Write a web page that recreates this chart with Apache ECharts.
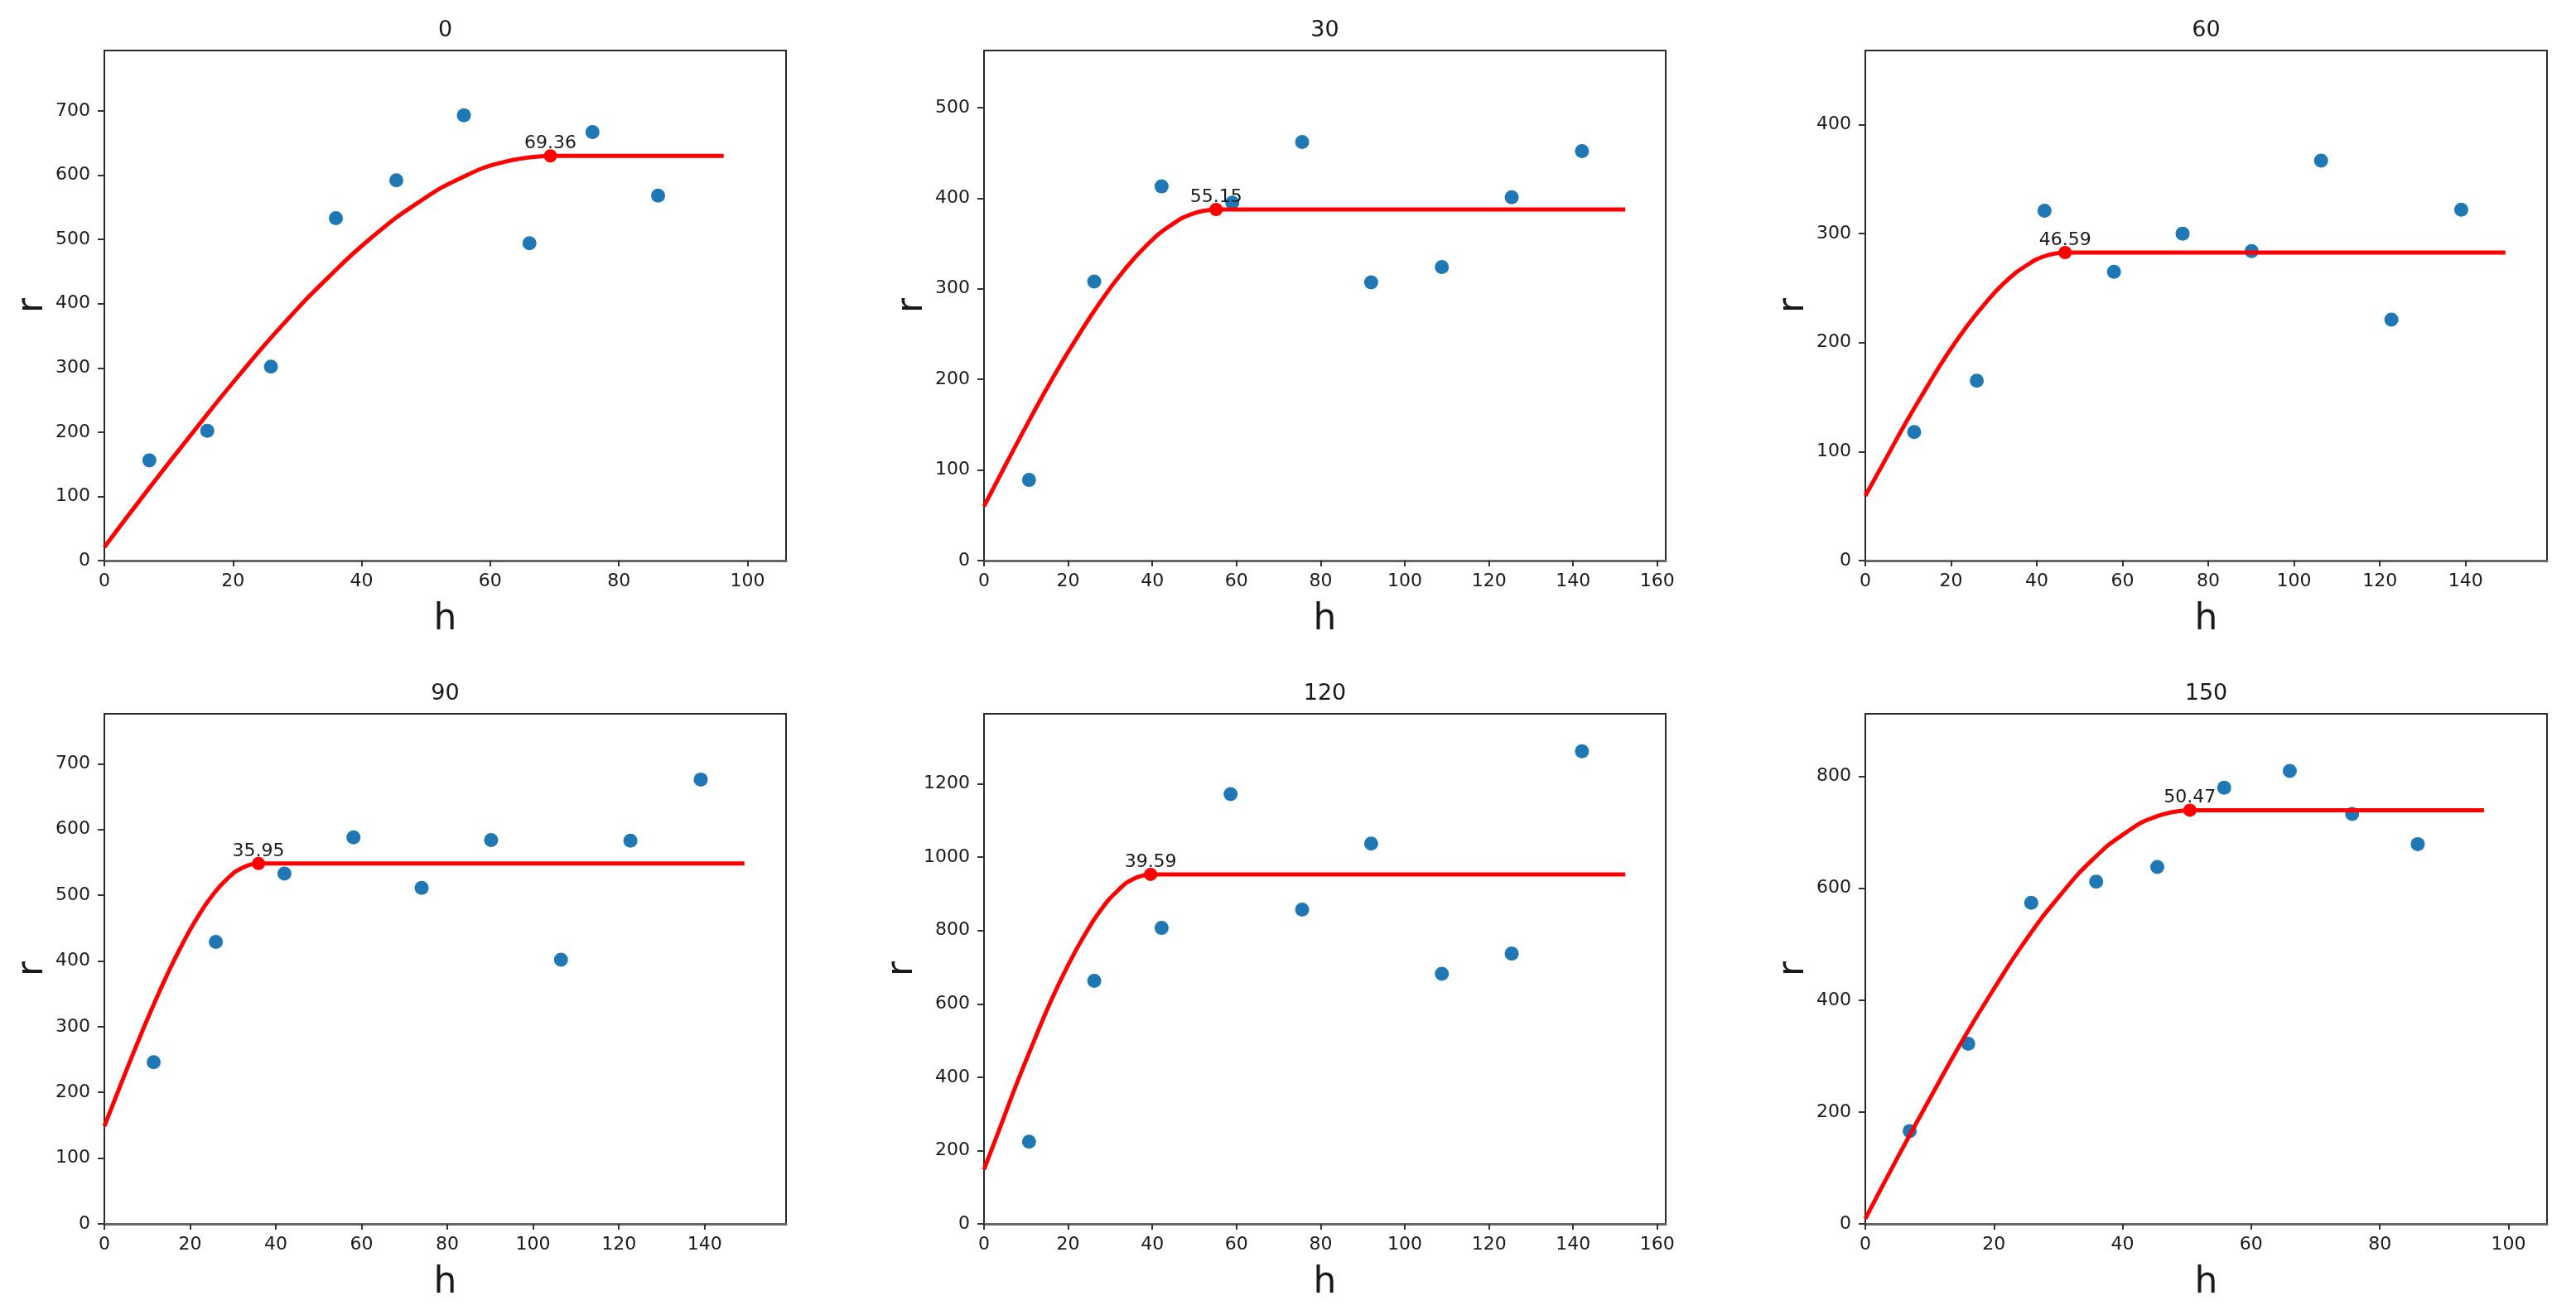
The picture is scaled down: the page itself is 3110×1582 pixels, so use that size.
<!DOCTYPE html>
<html>
<head>
<meta charset="utf-8">
<script src="https://cdn.jsdelivr.net/npm/echarts@6/dist/echarts.min.js"></script>
<style>
html, body { margin: 0; padding: 0; background: #fff; }
#chart { width: 3110px; height: 1582px; }
</style>
</head>
<body>
<div id="chart"></div>
<script>
// ---------- DATA ----------
const panelTitles = ['0', '30', '60', '90', '120', '150'];

// experimental points (lag h, semivariance r)
const h0 = [7.0, 16.0, 25.9, 36.0, 45.4, 55.9, 66.1, 75.9, 86.1];
const r0 = [156, 202, 302, 533, 592, 693, 494, 667, 568];
const h1 = [10.7, 26.2, 42.2, 59.0, 75.6, 92.0, 108.8, 125.4, 142.1];
const r1 = [89, 308, 413, 395, 462, 307, 324, 401, 452];
const h2 = [11.4, 26.0, 41.8, 58.0, 74.0, 90.1, 106.3, 122.7, 139.0];
const r2 = [118, 165, 321, 265, 300, 284, 367, 221, 322];
const h3 = [11.5, 26.0, 42.0, 58.1, 74.0, 90.2, 106.5, 122.7, 139.1];
const r3 = [246, 429, 533, 588, 511, 584, 402, 583, 676];
const h4 = [10.7, 26.2, 42.2, 58.6, 75.6, 92.0, 108.8, 125.4, 142.1];
const r4 = [224, 663, 807, 1172, 857, 1037, 682, 737, 1289];
const h5 = [6.9, 16.0, 25.8, 35.9, 45.4, 55.8, 66.0, 75.7, 85.9];
const r5 = [166, 322, 574, 612, 638, 780, 810, 733, 679];

// fitted curve, rising part
const ch0 = [0, 6.9, 13.9, 20.8, 27.7, 34.7, 41.6, 48.6, 55.5, 62.4, 69.36];
const cr0 = [21, 112.0, 201.3, 286.8, 366.9, 439.7, 503.3, 556.0, 595.9, 621.2, 630];
const ch1 = [0, 5.5, 11.0, 16.5, 22.1, 27.6, 33.1, 38.6, 44.1, 49.6, 55.15];
const cr1 = [60, 109.0, 156.9, 203.0, 246.0, 285.2, 319.4, 347.7, 369.2, 382.8, 387.5];
const ch2 = [0, 4.7, 9.3, 14.0, 18.6, 23.3, 28.0, 32.6, 37.3, 41.9, 46.59];
const cr2 = [59.4, 92.8, 125.5, 156.8, 186.2, 212.9, 236.2, 255.5, 270.1, 279.4, 282.6];
const ch3 = [0, 3.6, 7.2, 10.8, 14.4, 18.0, 21.6, 25.2, 28.8, 32.4, 35.95];
const cr3 = [148.6, 208.3, 266.9, 323.0, 375.6, 423.3, 465.1, 499.7, 525.8, 542.4, 548.2];
const ch4 = [0, 4.0, 7.9, 11.9, 15.8, 19.8, 23.8, 27.7, 31.7, 35.6, 39.59];
const cr4 = [148, 268.4, 386.3, 499.4, 605.2, 701.4, 785.6, 855.2, 907.9, 941.3, 953];
const ch5 = [0, 5.0, 10.1, 15.1, 20.2, 25.2, 30.3, 35.3, 40.4, 45.4, 50.47];
const cr5 = [9, 118.2, 225.3, 327.9, 424.0, 511.3, 587.6, 650.8, 698.7, 729.0, 739.6];

// fitted range (label), sill, and last lag of the flat part
const rangeVals = [69.36, 55.15, 46.59, 35.95, 39.59, 50.47];
const sillVals = [630, 387.5, 282.6, 548.2, 953, 739.6];
const flatEnd = [96.3, 152.4, 149.3, 149.3, 152.4, 96.2];

// axis extents and tick labels
const xMax = [106, 162, 159, 159, 162, 106];
const yMax = [794, 563, 468, 776, 1391, 912];
const xTicks0 = [0, 20, 40, 60, 80, 100];
const xTicks1 = [0, 20, 40, 60, 80, 100, 120, 140, 160];
const xTicks2 = [0, 20, 40, 60, 80, 100, 120, 140];
const yTicks0 = [0, 100, 200, 300, 400, 500, 600, 700];
const yTicks1 = [0, 100, 200, 300, 400, 500];
const yTicks2 = [0, 100, 200, 300, 400];
const yTicks3 = [0, 100, 200, 300, 400, 500, 600, 700];
const yTicks4 = [0, 200, 400, 600, 800, 1000, 1200];
const yTicks5 = [0, 200, 400, 600, 800];

// ---------- BUILD ----------
const H = [h0, h1, h2, h3, h4, h5];
const R = [r0, r1, r2, r3, r4, r5];
const CH = [ch0, ch1, ch2, ch3, ch4, ch5];
const CR = [cr0, cr1, cr2, cr3, cr4, cr5];
const XT = [xTicks0, xTicks1, xTicks2, xTicks2, xTicks1, xTicks0];
const YT = [yTicks0, yTicks1, yTicks2, yTicks3, yTicks4, yTicks5];

const FONT = 'DejaVu Sans';
const TXT = '#1a1a1a';
const colLeft = [126, 1188, 2252];
const rowTop = [61, 862];
const GW = 823, GH = 616;

const zip = (a, b) => a.map((v, i) => [v, b[i]]);
const plain = (v) => String(v);

const grids = [], xAxes = [], yAxes = [], series = [], titles = [];
for (let i = 0; i < 6; i++) {
  const col = i % 3, row = Math.floor(i / 3);
  const left = colLeft[col], top = rowTop[row];
  grids.push({
    left: left, top: top, width: GW, height: GH,
    show: true, borderColor: '#2a2a2a', borderWidth: 2, backgroundColor: '#fff',
    containLabel: false
  });
  titles.push({
    text: panelTitles[i],
    left: left + GW / 2, top: top - 38, textAlign: 'center', padding: 0,
    textStyle: { fontFamily: FONT, fontSize: 27, fontWeight: 'normal', color: TXT }
  });
  xAxes.push({
    gridIndex: i, type: 'value', min: 0, max: xMax[i], interval: 20,
    name: 'h', nameLocation: 'middle', nameGap: 50,
    nameTextStyle: { fontFamily: FONT, fontSize: 44, color: TXT },
    axisLine: { show: true, onZero: false, lineStyle: { color: '#666', width: 3 } },
    axisTick: { show: true, length: 7, customValues: XT[i], lineStyle: { color: '#333', width: 2 } },
    axisLabel: { customValues: XT[i], formatter: plain, margin: 14, fontFamily: FONT, fontSize: 22, color: TXT },
    splitLine: { show: false }
  });
  yAxes.push({
    gridIndex: i, type: 'value', min: 0, max: yMax[i],
    name: 'r', nameLocation: 'middle', nameGap: 64, nameRotate: 90,
    nameTextStyle: { fontFamily: FONT, fontSize: 44, color: TXT },
    axisLine: { show: true, onZero: false, lineStyle: { color: '#2a2a2a', width: 2 } },
    axisTick: { show: true, length: 8, customValues: YT[i], lineStyle: { color: '#333', width: 2 } },
    axisLabel: { customValues: YT[i], formatter: plain, margin: 17, fontFamily: FONT, fontSize: 22, color: TXT },
    splitLine: { show: false }
  });
  series.push({
    type: 'scatter', xAxisIndex: i, yAxisIndex: i, z: 2,
    symbolSize: 17, itemStyle: { color: '#1f77b4', opacity: 1 },
    data: zip(H[i], R[i]), silent: true
  });
  series.push({
    type: 'line', xAxisIndex: i, yAxisIndex: i, z: 3,
    smooth: true, showSymbol: false, symbol: 'none',
    lineStyle: { color: '#ff0000', width: 5 },
    data: zip(CH[i], CR[i]), silent: true
  });
  series.push({
    type: 'line', xAxisIndex: i, yAxisIndex: i, z: 3,
    showSymbol: false, symbol: 'none',
    lineStyle: { color: '#ff0000', width: 5 },
    data: [[rangeVals[i], sillVals[i]], [flatEnd[i], sillVals[i]]], silent: true
  });
  series.push({
    type: 'scatter', xAxisIndex: i, yAxisIndex: i, z: 4,
    symbolSize: 16, itemStyle: { color: '#ff0000', opacity: 1 },
    data: [[rangeVals[i], sillVals[i]]], silent: true,
    label: {
      show: true, position: 'top', distance: -4,
      formatter: (p) => p.value[0].toFixed(2),
      fontFamily: FONT, fontSize: 22, color: TXT
    }
  });
}

const chart = echarts.init(document.getElementById('chart'), null, { renderer: 'canvas' });
chart.setOption({
  backgroundColor: '#fff',
  animation: false,
  title: titles,
  grid: grids,
  xAxis: xAxes,
  yAxis: yAxes,
  series: series
});
</script>
</body>
</html>
